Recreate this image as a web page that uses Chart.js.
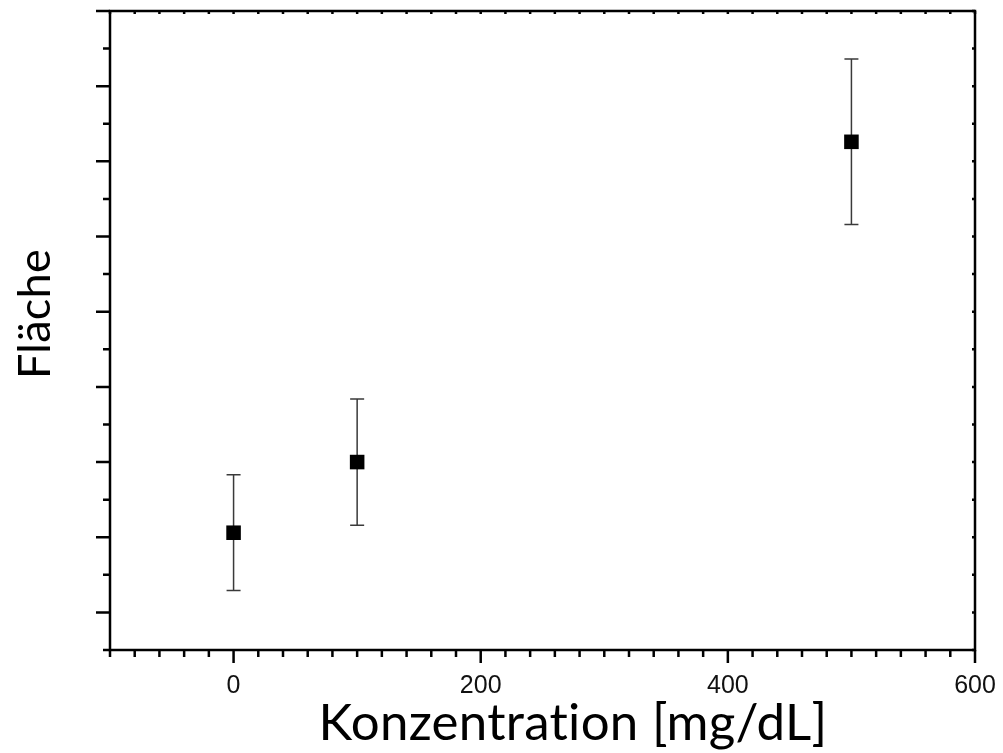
<!DOCTYPE html>
<html>
<head>
<meta charset="utf-8">
<script src="https://cdn.jsdelivr.net/npm/chart.js@4/dist/chart.umd.min.js"></script>
<style>
  body { margin: 0; background: #fff; }
  #wrap { width: 1003px; height: 753px; }
</style>
</head>
<body>
<div id="wrap"><canvas id="ChartElem"></canvas></div>
<script>
// concentrations [mg/dL]
var konzentration = [0, 100, 500];
// area (y axis has no numbers in the original, arbitrary units)
var flaeche = [2.06, 3.0, 7.26];
var fehler = [0.77, 0.84, 1.1];

var xTitle = "Konzentration [mg/dL]";
var yTitle = "Fläche";

var points = [];
for (let i = 0; i < konzentration.length; i++) {
    points.push({ x: konzentration[i], y: flaeche[i] });
}

// error bars, drawn under the squares
var errorBars = {
    id: 'errorBars',
    beforeDatasetsDraw: function (chart) {
        var ctx = chart.ctx, x = chart.scales.x, y = chart.scales.y;
        ctx.save();
        ctx.strokeStyle = '#3a3a3a';
        ctx.lineWidth = 1.5;
        for (let i = 0; i < konzentration.length; i++) {
            var px = x.getPixelForValue(konzentration[i]);
            var top = y.getPixelForValue(flaeche[i] + fehler[i]);
            var bot = y.getPixelForValue(flaeche[i] - fehler[i]);
            ctx.beginPath();
            ctx.moveTo(px, top); ctx.lineTo(px, bot);
            ctx.moveTo(px - 7, top); ctx.lineTo(px + 7, top);
            ctx.moveTo(px - 7, bot); ctx.lineTo(px + 7, bot);
            ctx.stroke();
        }
        ctx.restore();
    }
};

// frame, tick marks and axis titles
var frame = {
    id: 'frame',
    afterDraw: function (chart) {
        var ctx = chart.ctx, a = chart.chartArea;
        var x = chart.scales.x, y = chart.scales.y;
        ctx.save();
        ctx.strokeStyle = '#000';
        ctx.lineWidth = 2.5;
        ctx.strokeRect(a.left, a.top, a.right - a.left, a.bottom - a.top);

        ctx.beginPath();
        x.ticks.forEach(function (t) {
            var px = x.getPixelForValue(t.value);
            var major = t.value % 200 === 0;
            ctx.moveTo(px, a.bottom);
            ctx.lineTo(px, a.bottom + (major ? 13 : 7));
            ctx.moveTo(px, a.top);
            ctx.lineTo(px, a.top + 3);
        });
        y.ticks.forEach(function (t) {
            var py = y.getPixelForValue(t.value);
            var major = Math.abs(t.value - Math.round(t.value)) < 1e-6;
            ctx.moveTo(a.left, py);
            ctx.lineTo(a.left - (major ? 14 : 7), py);
            ctx.moveTo(a.right, py);
            ctx.lineTo(a.right - 3, py);
        });
        ctx.stroke();

        ctx.fillStyle = '#000';
        ctx.letterSpacing = '0.3px';
        ctx.textAlign = 'center';
        ctx.textBaseline = 'alphabetic';
        ctx.font = '51px Lato';
        ctx.fillText(xTitle, 573, 740);

        ctx.font = '45px Lato';
        ctx.translate(50, 314);
        ctx.rotate(-Math.PI / 2);
        ctx.fillText(yTitle, 0, 0);
        ctx.restore();
    }
};

var chart = new Chart(document.getElementById("ChartElem").getContext("2d"), {
    type: 'scatter',
    data: {
        datasets: [{
            label: yTitle,
            data: points,
            pointStyle: 'rect',
            pointRadius: 10.3,
            pointHoverRadius: 10.3,
            backgroundColor: '#000',
            borderColor: '#000',
            borderWidth: 0
        }]
    },
    options: {
        responsive: true,
        maintainAspectRatio: false,
        animation: false,
        layout: { padding: { top: 11, right: 28, left: 0, bottom: 0 } },
        plugins: {
            legend: { display: false },
            tooltip: { enabled: false }
        },
        scales: {
            x: {
                type: 'linear',
                min: -100,
                max: 600,
                grid: { display: false, drawTicks: false },
                border: { display: false },
                afterFit: function (s) { s.height = 103; s.paddingLeft = 0; s.paddingRight = 0; },
                ticks: {
                    stepSize: 20,
                    autoSkip: false,
                    maxRotation: 0,
                    padding: 21,
                    color: '#111',
                    font: { family: 'Liberation Sans', size: 25 },
                    callback: function (v) { return v % 200 === 0 ? String(v) : ''; }
                }
            },
            y: {
                type: 'linear',
                min: 0.5,
                max: 9,
                grid: { display: false, drawTicks: false },
                border: { display: false },
                afterFit: function (s) { s.width = 110; s.paddingTop = 0; s.paddingBottom = 0; },
                ticks: {
                    stepSize: 0.5,
                    autoSkip: false,
                    callback: function () { return ''; }
                }
            }
        }
    },
    plugins: [errorBars, frame]
});
</script>
</body>
</html>
